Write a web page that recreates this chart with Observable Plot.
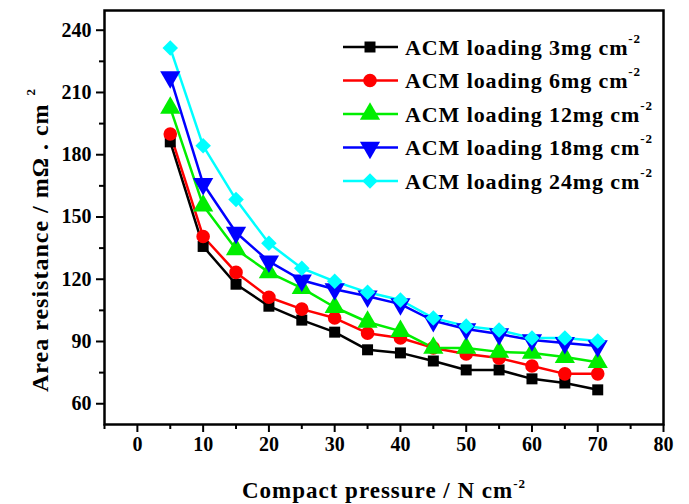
<!DOCTYPE html>
<html>
<head>
<meta charset="utf-8">
<script src="https://cdn.jsdelivr.net/npm/d3@7"></script>
<script src="https://cdn.jsdelivr.net/npm/@observablehq/plot@0.6"></script>
<style>
  html, body { margin: 0; padding: 0; background: #fff; }
  #chart svg { display: block; }
  #chart svg text { font-weight: bold; }
</style>
</head>
<body>
<div id="chart"></div>
<script>
// ---- data ----
const pressure = [5, 10, 15, 20, 25, 30, 35, 40, 45, 50, 55, 60, 65, 70];
const load3  = [186.2, 135.8, 117.6, 107.0, 100.3, 94.5, 86.0, 84.5, 80.6, 76.3, 76.3, 72.0, 70.0, 66.7];
const load6  = [190.0, 140.6, 123.3, 111.3, 105.6, 101.3, 94.0, 91.7, 86.9, 84.0, 82.0, 78.2, 74.4, 74.4];
const load12 = [202.6, 155.5, 134.4, 123.3, 115.7, 106.5, 99.4, 95.0, 86.9, 86.9, 85.0, 84.5, 82.5, 80.0];
const load18 = [217.4, 166.0, 142.5, 128.6, 119.5, 115.2, 111.8, 108.0, 100.0, 96.0, 93.6, 90.7, 89.3, 87.8];
const load24 = [231.4, 184.3, 158.4, 137.3, 125.3, 119.0, 113.7, 110.0, 101.3, 97.4, 95.5, 91.7, 91.7, 90.2];
const seriesNames = ["ACM loading 3mg cm", "ACM loading 6mg cm", "ACM loading 12mg cm", "ACM loading 18mg cm", "ACM loading 24mg cm"];
const seriesValues = [load3, load6, load12, load18, load24];
const colors = ["#000000", "#ff0000", "#00ee00", "#0000ff", "#00ffff"];
const xTicks = [0, 10, 20, 30, 40, 50, 60, 70, 80];
const xMinor = [-5, 5, 15, 25, 35, 45, 55, 65, 75];
const yTicks = [60, 90, 120, 150, 180, 210, 240];
const yMinor = [75, 105, 135, 165, 195, 225];

// custom down-triangle symbol
const sqrt3 = Math.sqrt(3);
const triDown = {
  draw(context, size) {
    const y = -Math.sqrt(size / (sqrt3 * 3));
    context.moveTo(0, -y * 2);
    context.lineTo(-sqrt3 * y, y);
    context.lineTo(sqrt3 * y, y);
    context.closePath();
  }
};
const symbols = [d3.symbolSquare, d3.symbolCircle, d3.symbolTriangle, triDown, d3.symbolDiamond2];
const rs = [6.2, 6.8, 7.5, 7.5, 7.0];

const rows = [];
seriesNames.forEach((s, i) => pressure.forEach((p, j) => rows.push({series: s, idx: i, x: p, y: seriesValues[i][j]})));

const font = "'Liberation Serif', 'Times New Roman', serif";

const marks = [
  Plot.axisX({ticks: xMinor, tickSize: 5, tickFormat: () => "", strokeWidth: 2, label: null}),
  Plot.axisY({ticks: yMinor, tickSize: 5, tickFormat: () => "", strokeWidth: 2, label: null}),
  Plot.axisX({ticks: xTicks, tickSize: 8, tickPadding: 4, strokeWidth: 2, label: null, fontSize: 20}),
  Plot.axisY({ticks: yTicks, tickSize: 8, tickPadding: 5, strokeWidth: 2, label: null, fontSize: 20}),
  Plot.frame({stroke: "#000", strokeWidth: 2.5})
];
seriesNames.forEach((s, i) => {
  const data = rows.filter(d => d.idx === i);
  marks.push(Plot.line(data, {x: "x", y: "y", stroke: colors[i], strokeWidth: 2.5}));
});
seriesNames.forEach((s, i) => {
  const data = rows.filter(d => d.idx === i);
  marks.push(Plot.dot(data, {x: "x", y: "y", symbol: () => symbols[i], r: rs[i], fill: colors[i], stroke: "none"}));
});

const plot = Plot.plot({
  width: 689,
  height: 504,
  marginLeft: 104,
  marginRight: 26,
  marginTop: 10,
  marginBottom: 80,
  style: {fontFamily: font, color: "#000", background: "#fff"},
  x: {domain: [-5, 80]},
  y: {domain: [50, 249.5]},
  marks
});
document.getElementById("chart").appendChild(plot);

// ---- axis titles & legend ----
const svg = d3.select(plot);
const xt = svg.append("text")
  .attr("x", 384).attr("y", 498)
  .attr("text-anchor", "middle")
  .style("font-family", font).style("font-weight", "bold").style("font-size", "23px")
  .style("letter-spacing", "1px").attr("fill", "#000");
xt.append("tspan").text("Compact pressure / N cm");
xt.append("tspan").attr("dy", -10).style("font-size", "13px").text("-2");

const yt = svg.append("text")
  .attr("transform", "translate(48,392) rotate(-90)")
  .attr("text-anchor", "start")
  .style("font-family", font).style("font-weight", "bold").style("font-size", "24px")
  .style("letter-spacing", "1px").attr("fill", "#000");
yt.append("tspan").text("Area resistance / mΩ . cm");
yt.append("tspan").attr("dy", -13).attr("dx", 8).style("font-size", "13px").text("2");

const lg = svg.append("g");
seriesNames.forEach((s, i) => {
  const cy = 47 + i * 33.5;
  lg.append("line").attr("x1", 343).attr("x2", 398).attr("y1", cy).attr("y2", cy)
    .attr("stroke", colors[i]).attr("stroke-width", 2.5);
  lg.append("path").attr("transform", `translate(370,${cy})`)
    .attr("d", d3.symbol(symbols[i], Math.PI * rs[i] * rs[i])())
    .attr("fill", colors[i]);
  const t = lg.append("text").attr("x", 405).attr("y", cy + 7.5)
    .attr("text-anchor", "start")
    .style("font-family", font).style("font-weight", "bold").style("font-size", "22px")
    .style("letter-spacing", "0.9px").attr("fill", "#000");
  t.append("tspan").text(s);
  t.append("tspan").attr("dy", -12).style("font-size", "13px").text("-2");
});
</script>
</body>
</html>
